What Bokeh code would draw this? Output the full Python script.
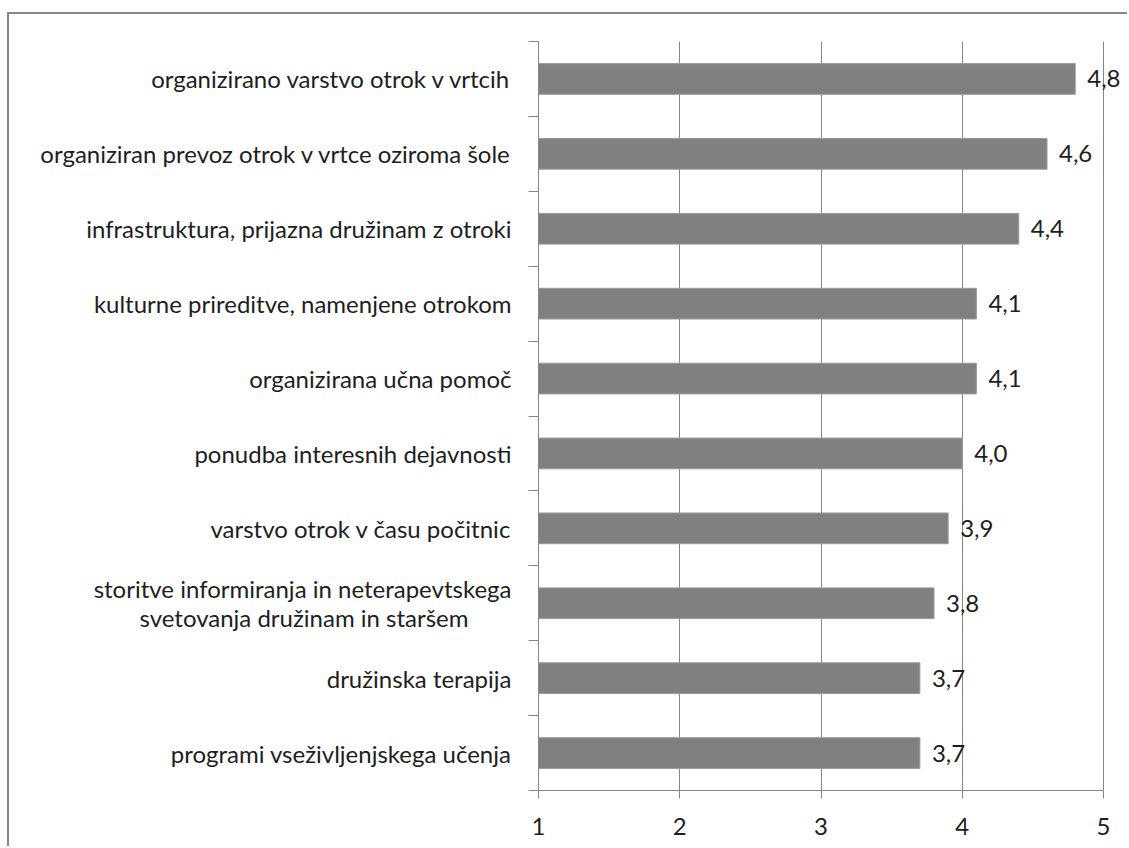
from bokeh.plotting import figure
from bokeh.models import ColumnDataSource, LabelSet, Range1d, FixedTicker
from bokeh.core.properties import value
from bokeh.embed import file_html
from bokeh.resources import INLINE

categories = [
    "organizirano varstvo otrok v vrtcih",
    "organiziran prevoz otrok v vrtce oziroma šole",
    "infrastruktura, prijazna družinam z otroki",
    "kulturne prireditve, namenjene otrokom",
    "organizirana učna pomoč",
    "ponudba interesnih dejavnosti",
    "varstvo otrok v času počitnic",
    "storitve informiranja in neterapevtskega\nsvetovanja družinam in staršem",
    "družinska terapija",
    "programi vseživljenjskega učenja",
]
values = [4.8, 4.6, 4.4, 4.1, 4.1, 4.0, 3.9, 3.8, 3.7, 3.7]
x_ticks = [1, 2, 3, 4, 5]
x_tick_labels = ["1", "2", "3", "4", "5"]

FONT = "Lato"
FS = "24px"
TXT = "#1e1e1e"
GRAY = "#868686"

n = len(categories)
ypos = [n - i - 0.5 for i in range(n)]
bounds = list(range(n + 1))
value_text = [f"{v:.1f}".replace(".", ",") for v in values]


def centre_lines(label, pad_char="\u00a0", factor=0.7):
    # right-aligned axis labels: pad shorter lines so multi-line labels look centred
    lines = label.split("\n")
    if len(lines) == 1:
        return label
    longest = max(len(s) for s in lines)
    return "\n".join(s + pad_char * int(round((longest - len(s)) * factor)) for s in lines)


p = figure(width=1120, height=834, output_backend="svg", toolbar_location=None,
           x_range=Range1d(x_ticks[0], 5.184), y_range=Range1d(0, n),
           min_border_left=529, min_border_right=0, min_border_top=27, min_border_bottom=58)
p.styles = {"margin-left": "7px", "margin-top": "12px",
            "border-top": "2px solid #878787", "border-left": "2px solid #878787"}
p.outline_line_color = None

src = ColumnDataSource(dict(y=ypos, v=values, left=[x_ticks[0]] * n, vt=value_text))
p.hbar(y="y", left="left", right="v", height=0.41, source=src,
       fill_color="#808080", line_color="#9a9a9a", line_width=1)

# x axis
p.xaxis.ticker = FixedTicker(ticks=x_ticks)
p.xaxis.bounds = (x_ticks[0], x_ticks[-1])
p.xaxis.major_label_overrides = {t: l for t, l in zip(x_ticks, x_tick_labels)}
p.xaxis.axis_line_color = GRAY
p.xaxis.major_tick_line_color = GRAY
p.xaxis.major_tick_out = 8
p.xaxis.major_tick_in = 0
p.xaxis.minor_tick_line_color = None
p.xaxis.major_label_text_font = FONT
p.xaxis.major_label_text_font_size = FS
p.xaxis.major_label_text_color = TXT
p.xaxis.major_label_standoff = 19

# y axis: labels at category centres, tick marks at category boundaries
p.yaxis.ticker = FixedTicker(ticks=ypos, minor_ticks=bounds)
p.yaxis.major_label_overrides = {y: centre_lines(c) for y, c in zip(ypos, categories)}
p.yaxis.major_label_text_font = FONT
p.yaxis.major_label_text_font_size = FS
p.yaxis.major_label_text_color = TXT
p.yaxis.major_label_text_line_height = 1.0
p.yaxis.major_label_standoff = 17
p.yaxis.axis_line_color = GRAY
p.yaxis.major_tick_line_color = None
p.yaxis.major_tick_out = 0
p.yaxis.major_tick_in = 0
p.yaxis.minor_tick_line_color = GRAY
p.yaxis.minor_tick_out = 10
p.yaxis.minor_tick_in = 0

p.xgrid.ticker = FixedTicker(ticks=x_ticks)
p.xgrid.grid_line_color = GRAY
p.ygrid.grid_line_color = None

# value labels
p.add_layout(LabelSet(x="v", y="y", text="vt", source=src, x_offset=12,
                      text_align="left", text_baseline="middle",
                      text_font=value(FONT), text_font_size=value(FS), text_color=TXT))

open("out.html", "w").write(file_html(p, INLINE))
